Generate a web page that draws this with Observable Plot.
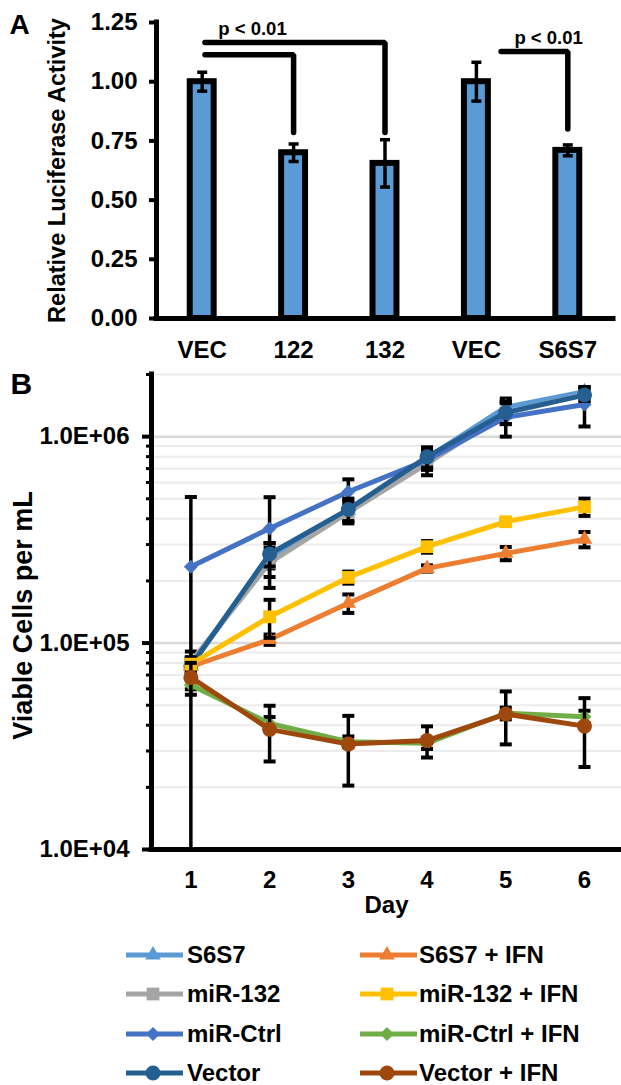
<!DOCTYPE html>
<html><head><meta charset="utf-8">
<script src="https://cdn.jsdelivr.net/npm/d3@7"></script>
<script src="https://cdn.jsdelivr.net/npm/@observablehq/plot@0.6"></script>
<style>
body{margin:0;background:#fff;width:621px;height:1085px;overflow:hidden;font-family:"Liberation Sans",Arial,sans-serif;font-weight:bold;color:#000}
#legend{position:relative;width:621px;height:160px}
.item{position:absolute;height:28px;line-height:28px;font-size:24px;white-space:nowrap}
.item svg{position:absolute;top:0}
</style></head><body><div id="chart"></div><div id="legend"></div>
<script>
// ---------- Panel A data ----------
const barLabels = ["VEC", "122", "132", "VEC", "S6S7"];
const barValues = [1.00, 0.70, 0.655, 1.00, 0.71];
const barErrors = [0.04, 0.037, 0.10, 0.082, 0.023];
const yTicksA = [0, 0.25, 0.5, 0.75, 1.0, 1.25];
const brackets = [
  {id: 1, from: 0.03, to: 1, y: 1.114, end: 0.786},
  {id: 2, from: 0.03, to: 2, y: 1.166, end: 0.786},
  {id: 3, from: 3.27, to: 4, y: 1.128, end: 0.80}
];
const pLabels = [
  {x: 0.55, y: 1.222, label: "p < 0.01"},
  {x: 3.79, y: 1.184, label: "p < 0.01"}
];

// ---------- Panel B data ----------
const days = [1, 2, 3, 4, 5, 6];
const seriesNames = ["S6S7", "miR-132", "miR-Ctrl", "Vector", "S6S7 + IFN", "miR-132 + IFN", "miR-Ctrl + IFN", "Vector + IFN"];
const seriesColors = ["#5B9BD5", "#A5A5A5", "#4472C4", "#255E91", "#ED7D31", "#FFC000", "#70AD47", "#9E480E"];
const seriesSymbols = ["triangle", "square", "diamond2", "circle", "triangle", "square", "diamond2", "circle"];
const s6s7      = [7.8e4, 2.6e5, 4.4e5, 7.9e5, 1.39e6, 1.65e6];
const mir132    = [8.1e4, 2.45e5, 4.3e5, 7.4e5, 1.3e6, 1.6e6];
const mirCtrl   = [2.34e5, 3.59e5, 5.41e5, 7.7e5, 1.24e6, 1.43e6];
const vector    = [7.74e4, 2.7e5, 4.44e5, 7.98e5, 1.31e6, 1.59e6];
const s6s7Ifn   = [7.7e4, 1.04e5, 1.56e5, 2.3e5, 2.72e5, 3.18e5];
const mir132Ifn = [7.9e4, 1.34e5, 2.08e5, 2.93e5, 3.87e5, 4.57e5];
const mirCtrlIfn= [6.27e4, 4.08e4, 3.33e4, 3.27e4, 4.57e4, 4.4e4];
const vectorIfn = [6.82e4, 3.82e4, 3.24e4, 3.37e4, 4.53e4, 3.96e4];
const s6s7Err      = [6e3, 3e4, 5e4, 8e4, 1.4e5, 9e4];
const mir132Err    = [1e4, 6e4, 5e4, 9e4, 1.5e5, 1.2e5];
const mirCtrlErr   = [2.76e5, 1.5e5, 8e4, 8e4, 2.4e5, 3.1e5];
const vectorErr    = [8e3, 3.5e4, 5.7e4, 9e4, 1.6e5, 1e5];
const s6s7IfnErr   = [5e3, 6e3, 1.6e4, 8e3, 2e4, 2.7e4];
const mir132IfnErr = [6e3, 2.8e4, 1.4e4, 1.9e4, 1e4, 4.4e4];
const mirCtrlIfnErr= [3e3, 3e3, 2e3, 2e3, 3e3, 3e3];
const vectorIfnErr = [1.2e4, 1.15e4, 1.2e4, 5.8e3, 1.3e4, 1.45e4];
const seriesValues = [s6s7, mir132, mirCtrl, vector, s6s7Ifn, mir132Ifn, mirCtrlIfn, vectorIfn];
const seriesErrors = [s6s7Err, mir132Err, mirCtrlErr, vectorErr, s6s7IfnErr, mir132IfnErr, mirCtrlIfnErr, vectorIfnErr];
const yMajorB = [1e4, 1e5, 1e6];
const yMinorB = [2e4,3e4,4e4,5e4,6e4,7e4,8e4,9e4,2e5,3e5,4e5,5e5,6e5,7e5,8e5,9e5,2e6];
const yDomainB = [1e4, 2e6];

const FONT = '"Liberation Sans", Arial, sans-serif';
const baseStyle = {fontFamily: FONT, fontWeight: "bold", fontSize: "24px", color: "#000", background: "#fff", overflow: "visible"};
const cap = {draw(ctx, size) { const w = Math.sqrt(size / Math.PI); ctx.moveTo(-w, 0); ctx.lineTo(w, 0); }};
const symbolRadius = {triangle: 5.8, square: 7.2, diamond2: 6.3, circle: 7.5};

// ---------- Panel A ----------
const barData = barLabels.map((label, i) => ({i, label, value: barValues[i], err: barErrors[i]}));
const half = 0.131;
const bracketPts = brackets.flatMap(b => [
  {id: b.id, x: b.from, y: b.y}, {id: b.id, x: b.to, y: b.y}, {id: b.id, x: b.to, y: b.end}
]);
const plotA = Plot.plot({
  width: 621, height: 365, marginLeft: 156, marginRight: 8, marginTop: 22, marginBottom: 47,
  x: {type: "linear", domain: [-0.5, 4.5], label: null},
  y: {domain: [0, 1.25], label: null},
  style: baseStyle,
  marks: [
    Plot.rectY(barData, {x1: d => d.i - half, x2: d => d.i + half, y1: 0, y2: "value", fill: "#5B9BD5", stroke: "#000", strokeWidth: 6}),
    Plot.ruleX(barData, {x: "i", y1: d => d.value - d.err, y2: d => d.value + d.err, stroke: "#000", strokeWidth: 3.5}),
    Plot.dot(barData, {x: "i", y: d => d.value + d.err, symbol: cap, r: 5, fill: "none", stroke: "#000", strokeWidth: 3.5}),
    Plot.dot(barData, {x: "i", y: d => d.value - d.err, symbol: cap, r: 5, fill: "none", stroke: "#000", strokeWidth: 3.5}),
    Plot.line(bracketPts, {x: "x", y: "y", z: "id", stroke: "#000", strokeWidth: 5.5, strokeLinejoin: "miter"}),
    Plot.text(pLabels, {x: "x", y: "y", text: "label", fontSize: 18.5}),
    Plot.axisY({ticks: yTicksA, tickFormat: d => d.toFixed(2), tickSize: 7, tickPadding: 12, strokeWidth: 4, label: null}),
    Plot.axisX({ticks: [0, 1, 2, 3, 4], tickFormat: i => barLabels[i], tickSize: 0, tickPadding: 22, label: null}),
    Plot.ruleX([-0.5], {stroke: "#000", strokeWidth: 5, strokeLinecap: "square"}),
    Plot.ruleY([0], {stroke: "#000", strokeWidth: 5, strokeLinecap: "square"}),
    Plot.text(["Relative Luciferase Activity"], {text: d => d, frameAnchor: "left", textAnchor: "middle", lineAnchor: "middle", rotate: -90, dx: -99, fontSize: 23.5}),
    Plot.text(["A"], {text: d => d, frameAnchor: "top-left", textAnchor: "start", lineAnchor: "bottom", dx: -147, dy: 11, fontSize: 28})
  ]
});

// ---------- Panel B ----------
const sci = d => { const e = Math.floor(Math.log10(d) + 1e-9); return (d / 10 ** e).toFixed(1) + "E+" + String(e).padStart(2, "0"); };
const seriesMarks = [];
seriesNames.forEach((name, s) => {
  const pts = days.map((day, k) => {
    const v = seriesValues[s][k], e = seriesErrors[s][k];
    return {day, v, lo: Math.max(v - e, yDomainB[0]), hi: v + e, loClamped: v - e <= yDomainB[0]};
  });
  seriesMarks.push(
    Plot.ruleX(pts, {x: "day", y1: "lo", y2: "hi", stroke: "#000", strokeWidth: 3.5}),
    Plot.dot(pts, {x: "day", y: "hi", symbol: cap, r: 6, fill: "none", stroke: "#000", strokeWidth: 4}),
    Plot.dot(pts.filter(p => !p.loClamped), {x: "day", y: "lo", symbol: cap, r: 6, fill: "none", stroke: "#000", strokeWidth: 4}),
    Plot.line(pts, {x: "day", y: "v", stroke: seriesColors[s], strokeWidth: 5, strokeLinejoin: "round", strokeLinecap: "round"}),
    Plot.dot(pts, {x: "day", y: "v", symbol: seriesSymbols[s], r: symbolRadius[seriesSymbols[s]], fill: seriesColors[s], stroke: "none"})
  );
});
const plotB = Plot.plot({
  width: 621, height: 560, marginLeft: 151, marginRight: 0, marginTop: 9, marginBottom: 76,
  x: {type: "linear", domain: [0.5, 6.47], label: null},
  y: {type: "log", domain: yDomainB, label: null},
  style: baseStyle,
  marks: [
    Plot.ruleY(yMinorB, {stroke: "#ececec", strokeWidth: 2}),
    Plot.ruleY([1e5, 1e6], {stroke: "#d9d9d9", strokeWidth: 2.5}),
    ...seriesMarks,
    Plot.axisY({ticks: yMinorB, tickFormat: () => "", tickSize: 5, strokeWidth: 3, label: null}),
    Plot.axisY({ticks: yMajorB, tickFormat: sci, tickSize: 9, tickPadding: 13, strokeWidth: 4, label: null}),
    Plot.axisX({ticks: days, tickFormat: d => String(d), tickSize: 0, tickPadding: 21, label: null}),
    Plot.ruleX([0.5], {stroke: "#000", strokeWidth: 5, strokeLinecap: "square"}),
    Plot.ruleY([yDomainB[0]], {stroke: "#000", strokeWidth: 5, strokeLinecap: "square"}),
    Plot.text(["Day"], {text: d => d, frameAnchor: "bottom", lineAnchor: "middle", dy: 56, fontSize: 24}),
    Plot.text(["Viable Cells per mL"], {text: d => d, frameAnchor: "left", textAnchor: "middle", lineAnchor: "middle", rotate: -90, dx: -128, dy: 3.5, fontSize: 27}),
    Plot.text(["B"], {text: d => d, frameAnchor: "top-left", textAnchor: "start", lineAnchor: "bottom", dx: -141, dy: 19, fontSize: 30})
  ]
});

document.getElementById("chart").append(plotA, plotB);

// ---------- Legend ----------
const d3Sym = {triangle: d3.symbolTriangle, square: d3.symbolSquare, diamond2: d3.symbolDiamond2, circle: d3.symbolCircle};
const legend = document.getElementById("legend");
seriesNames.forEach((name, s) => {
  const col = s < 4 ? 0 : 1, row = s % 4;
  const sampleLeft = col === 0 ? 124 : 358;
  const textLeft = col === 0 ? 187 : 419;
  const top = 30 + row * 39.3 - 14;
  const rr = symbolRadius[seriesSymbols[s]];
  const path = d3.symbol(d3Sym[seriesSymbols[s]], Math.PI * rr * rr)();
  const item = document.createElement("div");
  item.className = "item";
  item.style.top = top + "px";
  item.style.left = "0px";
  item.innerHTML =
    `<svg width="62" height="28" style="left:${sampleLeft}px"><line x1="2" x2="59" y1="14" y2="14" stroke="${seriesColors[s]}" stroke-width="5"/>` +
    `<path d="${path}" transform="translate(29,14)" fill="${seriesColors[s]}"/></svg>` +
    `<span style="position:absolute;left:${textLeft}px">${name}</span>`;
  legend.append(item);
});
</script></body></html>
